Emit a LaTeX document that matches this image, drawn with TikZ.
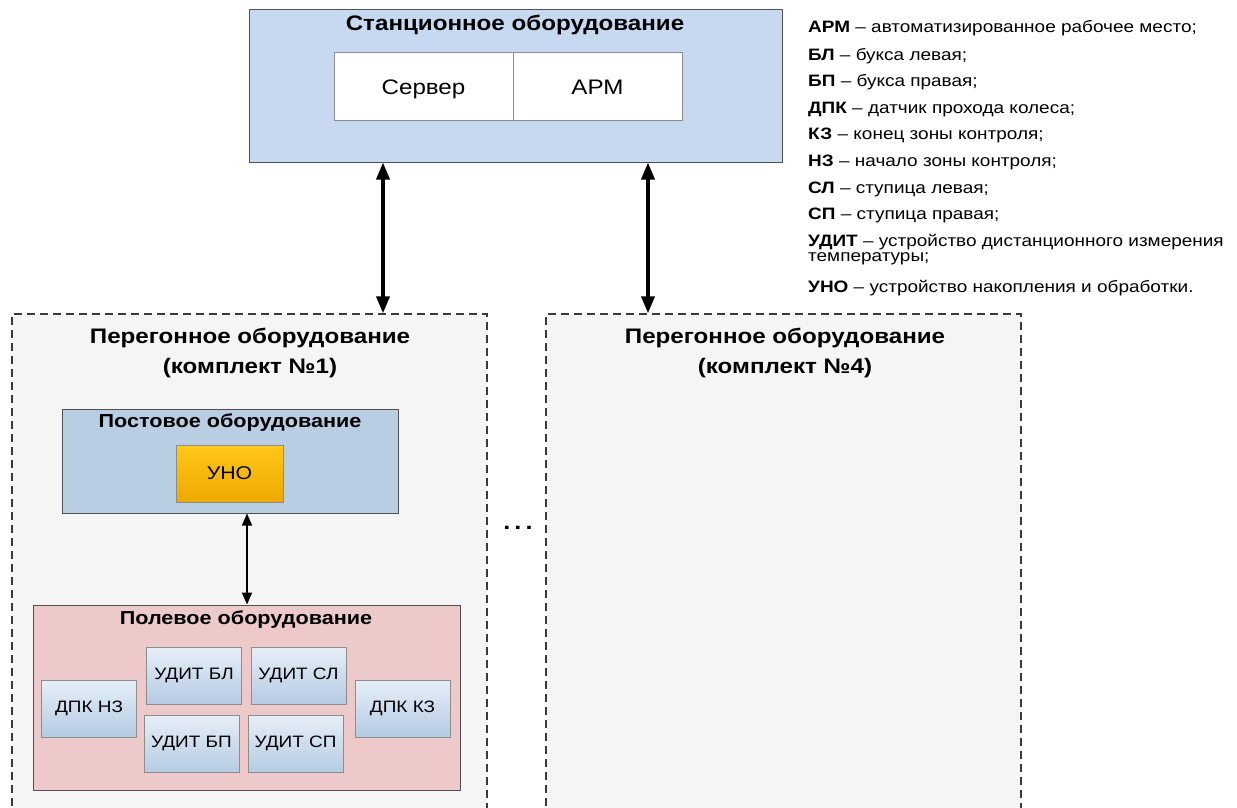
\documentclass[tikz,border=0pt]{standalone}
\usepackage{fontspec}
\setmainfont[FakeStretch=1.15]{Liberation Sans}
\usetikzlibrary{arrows.meta}
\definecolor{stfill}{HTML}{C6D9F0}
\definecolor{bordc}{HTML}{505050}
\definecolor{dashc}{HTML}{3A3A3A}
\definecolor{lightbord}{HTML}{8C8C8C}
\definecolor{kfill}{HTML}{F5F5F5}
\definecolor{postfill}{HTML}{B9CDE3}
\definecolor{polfill}{HTML}{EEC9C9}
\definecolor{unotop}{HTML}{FFC81A}
\definecolor{unobot}{HTML}{EEA800}
\definecolor{smtop}{HTML}{E6EFF8}
\definecolor{smbot}{HTML}{B5CBE2}
\tikzset{
  bigbox/.style={draw=bordc, line width=1pt, rectangle, inner sep=0pt},
  whitebox/.style={draw=lightbord, line width=1pt, fill=white, rectangle, minimum width=179, minimum height=67, text depth=0pt, text height=15pt, font=\fontsize{21}{24}\selectfont},
  kbox/.style={draw=dashc, dash pattern=on 8pt off 5pt, line width=1.3pt, fill=kfill, rectangle, minimum width=475, minimum height=516},
  smallbox/.style={draw=lightbord, line width=0.8pt, top color=smtop, bottom color=smbot, rectangle, minimum width=95, minimum height=57, font=\fontsize{16.5}{20}\selectfont},
  ttl/.style={font=\bfseries\fontsize{21}{30}\selectfont, align=center, inner sep=0pt},
  sttl/.style={font=\bfseries\fontsize{18.8}{22}\selectfont, inner sep=0pt},
  leg/.style={anchor=base west, inner sep=0pt, font=\fontsize{16.5}{17}\selectfont},
  bigarrow/.style={line width=3.6pt, {Triangle[length=17pt,width=13pt]}-{Triangle[length=17pt,width=13pt]}},
  smallarrow/.style={line width=1.7pt, {Triangle[length=12pt,width=10pt]}-{Triangle[length=12pt,width=10pt]}}
}
\begin{document}
\begin{tikzpicture}[x=1pt,y=-1pt]
\clip (0,0) rectangle (1237,808);
\fill[white] (0,0) rectangle (1237,808);
% station
\node[bigbox, fill=stfill, minimum width=533, minimum height=152] (st) at (515.5,86) {};
\node[ttl] (sttitle) at (515,25) {Станционное оборудование};
\node[whitebox] (srv) at (423.5,86.5) {Сервер};
\node[whitebox, minimum width=169] (arm) at (597.5,86.5) {АРМ};
% sections
\node[kbox] (k1) at (249.5,572) {};
\node[kbox] (k4) at (783.5,572) {};
\node[ttl] (k1t) at (250,353) {Перегонное оборудование\\(комплект №1)};
\node[ttl] (k4t) at (785,353) {Перегонное оборудование\\(комплект №4)};
\coordinate (a1x) at (383,0);
\coordinate (a2x) at (648,0);
\draw[bigarrow] (st.south -| a1x) -- (k1.north -| a1x);
\draw[bigarrow] (st.south -| a2x) -- (k4.north -| a2x);
% post
\node[bigbox, fill=postfill, minimum width=336, minimum height=104] (post) at (230,461) {};
\node[sttl] (postt) at (230,423) {Постовое оборудование};
\node[draw=lightbord, line width=0.8pt, top color=unotop, bottom color=unobot, minimum width=107, minimum height=57, font=\fontsize{18.5}{20}\selectfont] (uno) at (229.5,473.5) {УНО};
% field
\node[bigbox, fill=polfill, minimum width=427, minimum height=185] (pol) at (246.5,697.5) {};
\node[sttl] (polt) at (246,620) {Полевое оборудование};
\coordinate (a3x) at (247,0);
\draw[smallarrow] (post.south -| a3x) -- (pol.north -| a3x);
\node[smallbox] (dnz) at (89,708.5) {ДПК НЗ};
\node[smallbox] (ubl) at (194,675.5) {УДИТ БЛ};
\node[smallbox] (usl) at (298.5,675.5) {УДИТ СЛ};
\node[smallbox] (ubp) at (191.5,743.5) {УДИТ БП};
\node[smallbox] (usp) at (295.5,743.5) {УДИТ СП};
\node[smallbox] (dkz) at (402.5,708.5) {ДПК КЗ};
\node[font=\bfseries\fontsize{22}{24}\selectfont, inner sep=0pt] (dots) at (518,528) {.\hspace{4pt}.\hspace{4pt}.};
% legend
\node[leg] (l1) at (808,33) {\textbf{АРМ} – автоматизированное рабочее место;};
\node[leg] (l2) at (808,60) {\textbf{БЛ} – букса левая;};
\node[leg] (l3) at (808,86) {\textbf{БП} – букса правая;};
\node[leg] (l4) at (808,113) {\textbf{ДПК} – датчик прохода колеса;};
\node[leg] (l5) at (808,139) {\textbf{КЗ} – конец зоны контроля;};
\node[leg] (l6) at (808,166) {\textbf{НЗ} – начало зоны контроля;};
\node[leg] (l7) at (808,193) {\textbf{СЛ} – ступица левая;};
\node[leg] (l8) at (808,219) {\textbf{СП} – ступица правая;};
\node[leg] (l9) at (808,246) {\textbf{УДИТ} – устройство дистанционного измерения};
\node[leg] (l9b) at (808,261) {температуры;};
\node[leg] (l10) at (808,292) {\textbf{УНО} – устройство накопления и обработки.};
\end{tikzpicture}
\end{document}
